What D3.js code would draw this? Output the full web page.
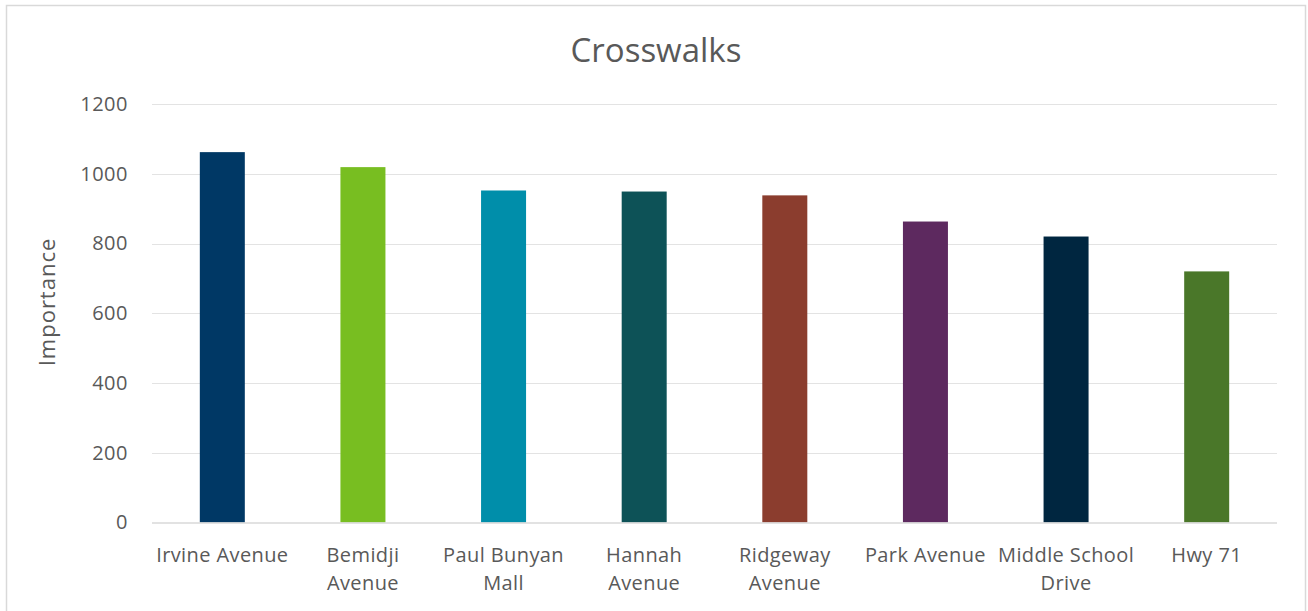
<!DOCTYPE html>
<html>
<head>
<meta charset="utf-8">
<script src="https://cdn.jsdelivr.net/npm/d3@7"></script>
<style>
  html, body { margin: 0; padding: 0; background: #fff; }
  svg { display: block; font-family: "Open Sans", sans-serif; }
</style>
</head>
<body>
<svg id="chart" width="1308" height="611"></svg>
<script>
const title = 'Crosswalks';
const yTitle = 'Importance';
const categories = ['Irvine Avenue', 'Bemidji Avenue', 'Paul Bunyan Mall', 'Hannah Avenue',
  'Ridgeway Avenue', 'Park Avenue', 'Middle School Drive', 'Hwy 71'];
const values = [1062, 1019, 952, 949, 938, 863, 820, 720];
const colors = ['#003865', '#78be21', '#008eaa', '#0d5257', '#8b3d2e', '#5d295f', '#002640', '#4a7729'];
const yTicks = [0, 200, 400, 600, 800, 1000, 1200];

const svg = d3.select('#chart');
const margin = { top: 104, right: 31, bottom: 89, left: 152 };
const width = 1308, height = 611;
const textColor = '#595959';

// chart frame
svg.append('rect')
  .attr('x', 6.5).attr('y', 5.5)
  .attr('width', 1299).attr('height', 620)
  .attr('fill', '#fff')
  .attr('stroke', '#d9d9d9')
  .attr('stroke-width', 1.5);

const x = d3.scaleBand()
  .domain(categories)
  .range([margin.left, width - margin.right])
  .paddingInner(0.68)
  .paddingOuter(0.34);

const y = d3.scaleLinear()
  .domain([0, 1200])
  .range([height - margin.bottom + 0.5, margin.top]);

// gridlines
svg.append('g')
  .selectAll('line')
  .data(yTicks.filter(t => t > 0))
  .join('line')
  .attr('x1', margin.left).attr('x2', width - margin.right)
  .attr('y1', d => Math.round(y(d)) + 0.5).attr('y2', d => Math.round(y(d)) + 0.5)
  .attr('stroke', '#e3e3e3')
  .attr('stroke-width', 1.2);

// bars
svg.append('g')
  .selectAll('rect')
  .data(categories)
  .join('rect')
  .attr('x', d => x(d))
  .attr('width', x.bandwidth())
  .attr('y', (d, i) => y(values[i]))
  .attr('height', (d, i) => y(0) - y(values[i]))
  .attr('fill', (d, i) => colors[i]);

// baseline
svg.append('line')
  .attr('x1', margin.left).attr('x2', width - margin.right)
  .attr('y1', y(0) + 0.5).attr('y2', y(0) + 0.5)
  .attr('stroke', '#d9d9d9')
  .attr('stroke-width', 1.5);

// y axis labels
const yAxis = d3.axisLeft(y).tickValues(yTicks).tickFormat(d3.format('d')).tickSize(0).tickPadding(24);
const yg = svg.append('g')
  .attr('transform', `translate(${margin.left},0)`)
  .call(yAxis);
yg.select('.domain').remove();
yg.selectAll('text')
  .attr('fill', textColor)
  .style('font-size', '20px')
  .style('letter-spacing', '0.5px')
  .style('font-family', '"Open Sans", sans-serif');

// x axis labels, wrapped to the band step
const xAxis = d3.axisBottom(x).tickSize(0).tickPadding(0);
const xg = svg.append('g')
  .attr('transform', `translate(0,${y(0)})`)
  .call(xAxis);
xg.select('.domain').remove();
xg.selectAll('text')
  .attr('fill', textColor)
  .style('font-size', '20px')
  .style('letter-spacing', '0.4px')
  .style('font-family', '"Open Sans", sans-serif')
  .attr('dy', null)
  .attr('y', 0)
  .each(function(d) {
    const t = d3.select(this);
    const words = d.split(' ');
    const maxW = x.step();
    let lines = [];
    let line = [];
    t.text(null);
    const probe = t.append('tspan');
    words.forEach(w => {
      const trial = line.concat([w]).join(' ');
      probe.text(trial);
      if (probe.node().getComputedTextLength() > maxW && line.length) {
        lines.push(line.join(' '));
        line = [w];
      } else {
        line.push(w);
      }
    });
    lines.push(line.join(' '));
    probe.remove();
    lines.forEach((l, i) => {
      t.append('tspan')
        .attr('x', 0)
        .attr('y', 39 + i * 28.5)
        .text(l);
    });
  });

// title
svg.append('text')
  .attr('x', 656)
  .attr('y', 62)
  .attr('text-anchor', 'middle')
  .attr('fill', textColor)
  .style('font-size', '33px')
  .text(title);

// y axis title
svg.append('text')
  .attr('transform', `translate(55,${302}) rotate(-90)`)
  .attr('text-anchor', 'middle')
  .attr('fill', textColor)
  .style('font-size', '22px')
  .style('letter-spacing', '1px')
  .text(yTitle);
</script>
</body>
</html>
